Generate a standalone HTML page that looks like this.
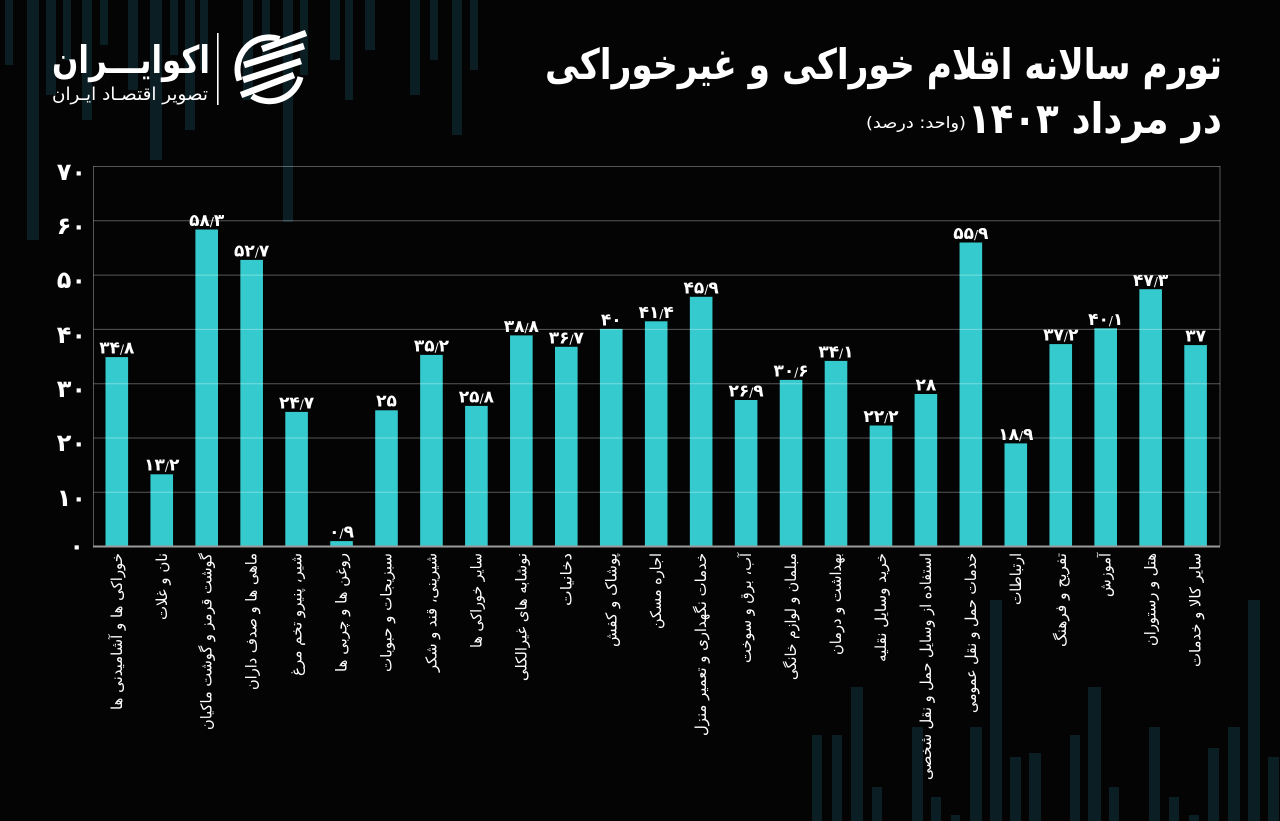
<!DOCTYPE html>
<html lang="fa">
<head>
<meta charset="utf-8">
<style>
  html,body{margin:0;padding:0;background:#040404;}
  svg{display:block;}
  text{font-family:"DejaVu Sans","Liberation Sans",sans-serif;fill:#fff;}
</style>
</head>
<body>
<svg width="1280" height="821" viewBox="0 0 1280 821" xmlns="http://www.w3.org/2000/svg">
  <rect x="0" y="0" width="1280" height="821" fill="#040404"/>

  <!-- decorative strips top-left -->
  <g fill="#0b1e24">
    <rect x="5" y="0" width="8" height="65"/>
    <rect x="27" y="0" width="12" height="240"/>
    <rect x="46" y="0" width="10" height="95"/>
    <rect x="63" y="0" width="8" height="60"/>
    <rect x="82" y="0" width="10" height="120"/>
    <rect x="100" y="0" width="8" height="45"/>
    <rect x="128" y="0" width="10" height="90"/>
    <rect x="150" y="0" width="12" height="160"/>
    <rect x="170" y="0" width="8" height="55"/>
    <rect x="185" y="0" width="10" height="130"/>
    <rect x="200" y="0" width="8" height="70"/>
    <rect x="243" y="0" width="10" height="100"/>
    <rect x="262" y="0" width="8" height="60"/>
    <rect x="283" y="0" width="10" height="222"/>
    <rect x="300" y="0" width="8" height="75"/>
    <rect x="330" y="0" width="10" height="60"/>
    <rect x="345" y="0" width="8" height="100"/>
    <rect x="365" y="0" width="10" height="50"/>
    <rect x="410" y="0" width="10" height="95"/>
    <rect x="430" y="0" width="8" height="60"/>
    <rect x="452" y="0" width="10" height="135"/>
    <rect x="470" y="0" width="8" height="70"/>
  </g>
  <!-- decorative strips bottom-right -->
  <g fill="#0b1e24">
    <rect x="812" y="735" width="10" height="86"/>
    <rect x="832" y="735" width="10" height="86"/>
    <rect x="851" y="687" width="12" height="134"/>
    <rect x="872" y="787" width="10" height="34"/>
    <rect x="912" y="727" width="11" height="94"/>
    <rect x="931" y="797" width="10" height="24"/>
    <rect x="951" y="815" width="9" height="6"/>
    <rect x="970" y="727" width="12" height="94"/>
    <rect x="990" y="600" width="12" height="221"/>
    <rect x="1010" y="757" width="11" height="64"/>
    <rect x="1029" y="753" width="12" height="68"/>
    <rect x="1070" y="735" width="10" height="86"/>
    <rect x="1088" y="687" width="13" height="134"/>
    <rect x="1109" y="787" width="10" height="34"/>
    <rect x="1149" y="727" width="11" height="94"/>
    <rect x="1169" y="797" width="10" height="24"/>
    <rect x="1189" y="815" width="10" height="6"/>
    <rect x="1208" y="748" width="11" height="73"/>
    <rect x="1228" y="727" width="12" height="94"/>
    <rect x="1248" y="600" width="12" height="221"/>
    <rect x="1268" y="757" width="11" height="64"/>
  </g>

  <!-- logo -->
  <text x="210" y="73" text-anchor="end" font-size="38" font-weight="bold" textLength="158" lengthAdjust="spacingAndGlyphs">اکوایـــران</text>
  <text x="208" y="100" text-anchor="end" font-size="18" textLength="156" lengthAdjust="spacingAndGlyphs">تصویر اقتصـاد ایـران</text>
  <rect x="217" y="33" width="1.6" height="72" fill="#ffffff"/>
  <g fill="none" stroke="#fff" stroke-width="6">
    <path d="M 239.5 80.5 A 32 32 0 0 1 279.5 39"/>
    <path d="M 300.5 77 A 32 32 0 0 1 252 96"/>
  </g>
  <g stroke="#fff" stroke-width="6.5" stroke-linecap="butt">
    <line x1="262" y1="49" x2="306" y2="33"/>
    <line x1="244" y1="65" x2="304" y2="46"/>
    <line x1="243" y1="80" x2="301" y2="61"/>
    <line x1="241" y1="95" x2="294" y2="75"/>
  </g>

  <!-- title -->
  <text x="1222" y="79" text-anchor="end" font-size="42" font-weight="bold" textLength="677" lengthAdjust="spacingAndGlyphs">تورم سالانه اقلام خوراکی و غیرخوراکی</text>
  <text x="1222" y="133" text-anchor="end" font-size="42" font-weight="bold" textLength="254" lengthAdjust="spacingAndGlyphs">در مرداد ۱۴۰۳</text>
  <text x="966" y="128" text-anchor="end" font-size="16" textLength="100" lengthAdjust="spacingAndGlyphs">(واحد: درصد)</text>

  <!-- bars -->
  <g fill="#35cbce">
    <rect x="105.5" y="357.1" width="22.6" height="188.9"/>
    <rect x="150.45" y="474.3" width="22.6" height="71.7"/>
    <rect x="195.4" y="229.5" width="22.6" height="316.5"/>
    <rect x="240.35" y="259.9" width="22.6" height="286.1"/>
    <rect x="285.3" y="411.9" width="22.6" height="134.1"/>
    <rect x="330.25" y="541.1" width="22.6" height="4.9"/>
    <rect x="375.2" y="410.3" width="22.6" height="135.7"/>
    <rect x="420.15" y="354.9" width="22.6" height="191.1"/>
    <rect x="465.1" y="405.9" width="22.6" height="140.1"/>
    <rect x="510.05" y="335.4" width="22.6" height="210.6"/>
    <rect x="555.0" y="346.8" width="22.6" height="199.2"/>
    <rect x="599.95" y="328.9" width="22.6" height="217.1"/>
    <rect x="644.9" y="321.3" width="22.6" height="224.7"/>
    <rect x="689.85" y="296.8" width="22.6" height="249.2"/>
    <rect x="734.8" y="400.0" width="22.6" height="146.0"/>
    <rect x="779.75" y="379.9" width="22.6" height="166.1"/>
    <rect x="824.7" y="360.9" width="22.6" height="185.1"/>
    <rect x="869.65" y="425.5" width="22.6" height="120.5"/>
    <rect x="914.6" y="394.0" width="22.6" height="152.0"/>
    <rect x="959.55" y="242.5" width="22.6" height="303.5"/>
    <rect x="1004.5" y="443.4" width="22.6" height="102.6"/>
    <rect x="1049.45" y="344.1" width="22.6" height="201.9"/>
    <rect x="1094.4" y="328.3" width="22.6" height="217.7"/>
    <rect x="1139.35" y="289.2" width="22.6" height="256.8"/>
    <rect x="1184.3" y="345.1" width="22.6" height="200.9"/>
  </g>

  <!-- grid lines (over bars) -->
  <g stroke="rgba(255,255,255,0.33)" stroke-width="1">
    <line x1="93.5" y1="166.5" x2="1220" y2="166.5"/>
    <line x1="93.5" y1="220.8" x2="1220" y2="220.8"/>
    <line x1="93.5" y1="275.1" x2="1220" y2="275.1"/>
    <line x1="93.5" y1="329.4" x2="1220" y2="329.4"/>
    <line x1="93.5" y1="383.7" x2="1220" y2="383.7"/>
    <line x1="93.5" y1="438.0" x2="1220" y2="438.0"/>
    <line x1="93.5" y1="492.3" x2="1220" y2="492.3"/>
    <line x1="93.5" y1="166" x2="93.5" y2="546"/>
    <line x1="1220" y1="166" x2="1220" y2="546"/>
  </g>
  <line x1="93" y1="546.5" x2="1220" y2="546.5" stroke="#9a9a9a" stroke-width="2"/>

  <!-- y axis labels -->
  <g font-size="24" font-weight="bold" text-anchor="end">
    <text x="86" y="180">۷۰</text>
    <text x="86" y="234">۶۰</text>
    <text x="86" y="288">۵۰</text>
    <text x="86" y="343">۴۰</text>
    <text x="86" y="397">۳۰</text>
    <text x="86" y="451">۲۰</text>
    <text x="86" y="506">۱۰</text>
    <text x="84" y="554">۰</text>
  </g>

  <!-- value labels -->
  <g font-size="17" font-weight="bold" text-anchor="middle">
    <text x="116.8" y="353.5">۳۴<tspan font-size="12" font-weight="normal">/</tspan>۸</text>
    <text x="161.75" y="470.5">۱۳<tspan font-size="12" font-weight="normal">/</tspan>۲</text>
    <text x="206.7" y="226">۵۸<tspan font-size="12" font-weight="normal">/</tspan>۳</text>
    <text x="251.65" y="256.5">۵۲<tspan font-size="12" font-weight="normal">/</tspan>۷</text>
    <text x="296.6" y="408.5">۲۴<tspan font-size="12" font-weight="normal">/</tspan>۷</text>
    <text x="341.55" y="537.5">۰<tspan font-size="12" font-weight="normal">/</tspan>۹</text>
    <text x="386.5" y="406.5">۲۵</text>
    <text x="431.45" y="351.5">۳۵<tspan font-size="12" font-weight="normal">/</tspan>۲</text>
    <text x="476.4" y="402.5">۲۵<tspan font-size="12" font-weight="normal">/</tspan>۸</text>
    <text x="521.35" y="332">۳۸<tspan font-size="12" font-weight="normal">/</tspan>۸</text>
    <text x="566.3" y="343.5">۳۶<tspan font-size="12" font-weight="normal">/</tspan>۷</text>
    <text x="611.25" y="325.5">۴۰</text>
    <text x="656.2" y="318">۴۱<tspan font-size="12" font-weight="normal">/</tspan>۴</text>
    <text x="701.15" y="293.5">۴۵<tspan font-size="12" font-weight="normal">/</tspan>۹</text>
    <text x="746.1" y="396.5">۲۶<tspan font-size="12" font-weight="normal">/</tspan>۹</text>
    <text x="791.05" y="376.5">۳۰<tspan font-size="12" font-weight="normal">/</tspan>۶</text>
    <text x="836.0" y="357.5">۳۴<tspan font-size="12" font-weight="normal">/</tspan>۱</text>
    <text x="880.95" y="422">۲۲<tspan font-size="12" font-weight="normal">/</tspan>۲</text>
    <text x="925.9" y="390.5">۲۸</text>
    <text x="970.85" y="239">۵۵<tspan font-size="12" font-weight="normal">/</tspan>۹</text>
    <text x="1015.8" y="440">۱۸<tspan font-size="12" font-weight="normal">/</tspan>۹</text>
    <text x="1060.75" y="340.5">۳۷<tspan font-size="12" font-weight="normal">/</tspan>۲</text>
    <text x="1105.7" y="325">۴۰<tspan font-size="12" font-weight="normal">/</tspan>۱</text>
    <text x="1150.65" y="286">۴۷<tspan font-size="12" font-weight="normal">/</tspan>۳</text>
    <text x="1195.6" y="341.5">۳۷</text>
  </g>

  <!-- x labels rotated -->
  <g font-size="15" text-anchor="end" dominant-baseline="central">
    <text transform="translate(116.8,553) rotate(-90)" textLength="157" lengthAdjust="spacingAndGlyphs">خوراکی ها و آشامیدنی ها</text>
    <text transform="translate(161.75,553) rotate(-90)" textLength="67" lengthAdjust="spacingAndGlyphs">نان و غلات</text>
    <text transform="translate(206.7,553) rotate(-90)" textLength="177" lengthAdjust="spacingAndGlyphs">گوشت قرمز و گوشت ماکیان</text>
    <text transform="translate(251.65,553) rotate(-90)" textLength="137" lengthAdjust="spacingAndGlyphs">ماهی ها و صدف داران</text>
    <text transform="translate(296.6,553) rotate(-90)" textLength="123" lengthAdjust="spacingAndGlyphs">شیر، پنیرو تخم مرغ</text>
    <text transform="translate(341.55,553) rotate(-90)" textLength="119" lengthAdjust="spacingAndGlyphs">روغن ها و چربی ها</text>
    <text transform="translate(386.5,553) rotate(-90)" textLength="119" lengthAdjust="spacingAndGlyphs">سبزیجات و حبوبات</text>
    <text transform="translate(431.45,553) rotate(-90)" textLength="119" lengthAdjust="spacingAndGlyphs">شیرینی، قند و شکر</text>
    <text transform="translate(476.4,553) rotate(-90)" textLength="95" lengthAdjust="spacingAndGlyphs">سایر خوراکی ها</text>
    <text transform="translate(521.35,553) rotate(-90)" textLength="128" lengthAdjust="spacingAndGlyphs">نوشابه های غیرالکلی</text>
    <text transform="translate(566.3,553) rotate(-90)" textLength="53" lengthAdjust="spacingAndGlyphs">دخانیات</text>
    <text transform="translate(611.25,553) rotate(-90)" textLength="94" lengthAdjust="spacingAndGlyphs">پوشاک و کفش</text>
    <text transform="translate(656.2,553) rotate(-90)" textLength="76" lengthAdjust="spacingAndGlyphs">اجاره مسکن</text>
    <text transform="translate(701.15,553) rotate(-90)" textLength="183" lengthAdjust="spacingAndGlyphs">خدمات نگهداری و تعمیر منزل</text>
    <text transform="translate(746.1,553) rotate(-90)" textLength="110" lengthAdjust="spacingAndGlyphs">آب، برق و سوخت</text>
    <text transform="translate(791.05,553) rotate(-90)" textLength="127" lengthAdjust="spacingAndGlyphs">مبلمان و لوازم خانگی</text>
    <text transform="translate(836.0,553) rotate(-90)" textLength="102" lengthAdjust="spacingAndGlyphs">بهداشت و درمان</text>
    <text transform="translate(880.95,553) rotate(-90)" textLength="109" lengthAdjust="spacingAndGlyphs">خرید وسایل نقلیه</text>
    <text transform="translate(925.9,553) rotate(-90)" textLength="227" lengthAdjust="spacingAndGlyphs">استفاده از وسایل حمل و نقل شخصی</text>
    <text transform="translate(970.85,553) rotate(-90)" textLength="160" lengthAdjust="spacingAndGlyphs">خدمات حمل و نقل عمومی</text>
    <text transform="translate(1015.8,553) rotate(-90)" textLength="52" lengthAdjust="spacingAndGlyphs">ارتباطات</text>
    <text transform="translate(1060.75,553) rotate(-90)" textLength="94" lengthAdjust="spacingAndGlyphs">تفریح و فرهنگ</text>
    <text transform="translate(1105.7,553) rotate(-90)" textLength="44" lengthAdjust="spacingAndGlyphs">آموزش</text>
    <text transform="translate(1150.65,553) rotate(-90)" textLength="93" lengthAdjust="spacingAndGlyphs">هتل و رستوران</text>
    <text transform="translate(1195.6,553) rotate(-90)" textLength="114" lengthAdjust="spacingAndGlyphs">سایر کالا و خدمات</text>
  </g>
</svg>
</body>
</html>
